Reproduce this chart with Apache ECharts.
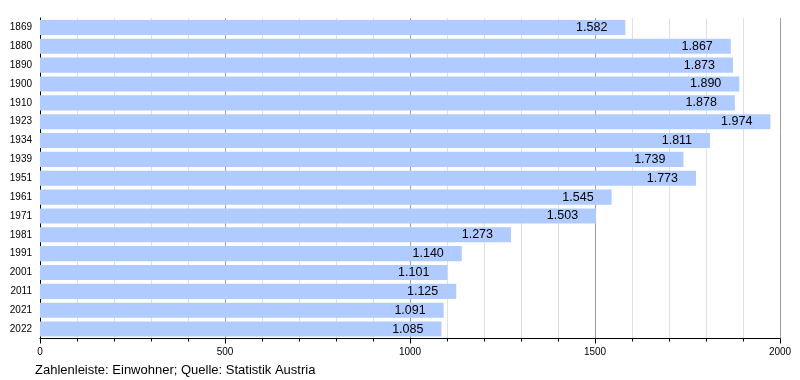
<!DOCTYPE html>
<html><head><meta charset="utf-8">
<script src="https://cdn.jsdelivr.net/npm/echarts@6/dist/echarts.min.js"></script>
<style>html,body{margin:0;padding:0;background:#fff}#c{width:800px;height:380px}</style>
</head><body><div id="c"></div>
<script>
const years = ['1869','1880','1890','1900','1910','1923','1934','1939','1951','1961','1971','1981','1991','2001','2011','2021','2022'];
const population = [1582,1867,1873,1890,1878,1974,1811,1739,1773,1545,1503,1273,1140,1101,1125,1091,1085];
const footnote = 'Zahlenleiste: Einwohner; Quelle: Statistik Austria';

function fmt(v){ return String(v).replace(/\B(?=(\d{3})+(?!\d))/g,'.'); }

const chart = echarts.init(document.getElementById('c'), null, {renderer:'canvas'});
chart.setOption({
  animation:false,
  textStyle:{fontFamily:'Liberation Sans, Arial, sans-serif'},
  grid:{left:40,right:20,top:18,bottom:41.5,containLabel:false},
  xAxis:{type:'value',min:0,max:2000,interval:500,
    axisLine:{show:true,lineStyle:{color:'#000',width:1}},
    axisTick:{show:true,length:5,lineStyle:{color:'#000'}},
    minorTick:{show:true,splitNumber:5,length:3,lineStyle:{color:'#000'}},
    splitLine:{show:true,lineStyle:{color:'#a0a0a0',width:1}},
    minorSplitLine:{show:true,lineStyle:{color:'#e0e0e0',width:1}},
    axisLabel:{color:'#000',fontSize:10,margin:9,formatter:v=>String(v)}
  },
  yAxis:{type:'category',data:years,inverse:true,
    axisLine:{show:true,lineStyle:{color:'#000',width:1}},
    axisTick:{show:false},
    axisLabel:{color:'#000',fontSize:10,margin:8}
  },
  series:[{type:'bar',data:population,barCategoryGap:'20%',
    itemStyle:{color:'#b0cbff'},
    label:{show:true,position:'insideRight',distance:18,color:'#000',fontSize:12.5,
      formatter:p=>fmt(p.value)}
  }],
  graphic:[{type:'text',left:35,top:364,style:{text:footnote,fill:'#000',font:'13px Liberation Sans, Arial, sans-serif'}}]
});
</script></body></html>
